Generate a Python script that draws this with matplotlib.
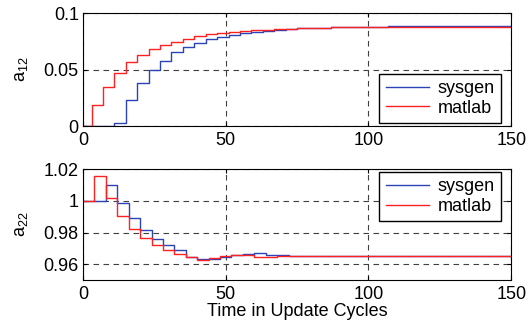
import matplotlib
matplotlib.use("Agg")
import matplotlib.pyplot as plt

plt.rcParams["font.family"] = ["Liberation Sans", "DejaVu Sans"]
plt.rcParams["font.size"] = 13
plt.rcParams["mathtext.fontset"] = "custom"
plt.rcParams["mathtext.rm"] = "Liberation Sans"
plt.rcParams["mathtext.it"] = "Liberation Sans"

# a12 (top panel), steps every 4 cycles
x_top = [0, 3, 7, 11, 15, 19, 23, 27, 31, 35, 39, 43, 47, 51, 55, 59, 63, 67, 71,
         75, 79, 83, 87, 91, 95, 99, 103, 107, 111, 115, 119, 123, 127, 131, 135,
         139, 143, 147, 150]
sysgen_a12 = [0, 0, 0, 0.003, 0.0231, 0.0385, 0.0497, 0.0577, 0.0651, 0.0695,
              0.0737, 0.0766, 0.0787, 0.0805, 0.0822, 0.0834, 0.0843, 0.0852,
              0.0858, 0.0863, 0.0867, 0.0870, 0.0873, 0.0875, 0.0877, 0.0879,
              0.0880, 0.0881, 0.0882, 0.0881, 0.0882, 0.0881, 0.0882, 0.0881,
              0.0882, 0.0881, 0.0882, 0.0881, 0.0881]
matlab_a12 = [0, 0.0186, 0.0349, 0.0473, 0.0565, 0.0627, 0.0680, 0.0719, 0.0746,
              0.0772, 0.0793, 0.0811, 0.0822, 0.0831, 0.0840, 0.0846, 0.0852,
              0.0857, 0.0861, 0.0865, 0.0868, 0.0870, 0.0872, 0.0874, 0.0875,
              0.0876, 0.0876, 0.0876, 0.0876, 0.0876, 0.0876, 0.0876, 0.0876,
              0.0876, 0.0876, 0.0876, 0.0876, 0.0876, 0.0876]

# a22 (bottom panel)
x_bot = [0, 4, 8, 12, 16, 20, 24, 28, 32, 36, 40, 44, 48, 52, 56, 60, 64, 68, 72,
         76, 80, 84, 88, 92, 96, 100, 104, 108, 112, 116, 120, 124, 128, 132, 136,
         140, 144, 148, 150]
sysgen_a22 = [1.0, 1.0, 1.0102, 0.9983, 0.9890, 0.9818, 0.9762, 0.9722, 0.9693,
              0.9648, 0.9635, 0.9631, 0.9648, 0.9658, 0.9662, 0.9672, 0.9660,
              0.9656, 0.9653, 0.9653, 0.9653, 0.9653, 0.9653, 0.9653, 0.9653,
              0.9653, 0.9653, 0.9653, 0.9653, 0.9653, 0.9653, 0.9653, 0.9653,
              0.9653, 0.9653, 0.9653, 0.9653, 0.9653, 0.9653]
matlab_a22 = [1.0, 1.0153, 1.0015, 0.9907, 0.9824, 0.9766, 0.9722, 0.9693, 0.9666,
              0.9646, 0.9625, 0.9641, 0.9652, 0.9656, 0.9657, 0.9648, 0.9647,
              0.9652, 0.9652, 0.9655, 0.9652, 0.9655, 0.9652, 0.9655, 0.9652,
              0.9652, 0.9652, 0.9652, 0.9649, 0.9652, 0.9652, 0.9652, 0.9652,
              0.9652, 0.9652, 0.9652, 0.9652, 0.9652, 0.9652]

blue = "#2a44b8"
red = "#ff2020"

fig = plt.figure(figsize=(5.32, 3.25), dpi=100)
ax1 = fig.add_axes([0.156, 0.612, 0.805, 0.348])
ax2 = fig.add_axes([0.156, 0.138, 0.805, 0.342])

leg_kw = dict(fancybox=False, edgecolor="black", framealpha=1, borderaxespad=0,
              handlelength=2.4, labelspacing=0.15, borderpad=0.35,
              handletextpad=0.5)

ax1.step(x_top, sysgen_a12, where="post", color=blue, lw=1.0, label="sysgen")
ax1.step(x_top, matlab_a12, where="post", color=red, lw=1.0, label="matlab")
ax1.set_ylim(0, 0.1)
ax1.set_yticks([0, 0.05, 0.1])
ax1.set_yticklabels(["0", "0.05", "0.1"])
ax1.set_ylabel("a$_{12}$", labelpad=10)
ax1.legend(loc="lower right", bbox_to_anchor=(0.977, 0.027), **leg_kw)

ax2.step(x_bot, sysgen_a22, where="post", color=blue, lw=1.0, label="sysgen")
ax2.step(x_bot, matlab_a22, where="post", color=red, lw=1.0, label="matlab")
ax2.set_ylim(0.95, 1.02)
ax2.set_yticks([0.96, 0.98, 1.0, 1.02])
ax2.set_yticklabels(["0.96", "0.98", "1", "1.02"])
ax2.set_ylabel("a$_{22}$", labelpad=10)
ax2.set_xlabel("Time in Update Cycles", labelpad=0)
ax2.legend(loc="upper right", bbox_to_anchor=(0.977, 0.973), **leg_kw)

for ax in (ax1, ax2):
    ax.set_xlim(0, 150)
    ax.set_xticks([0, 50, 100, 150])
    ax.tick_params(direction="in", top=True, right=True, length=3)
    ax.tick_params(axis="x", pad=4)
    ax.tick_params(axis="y", pad=3)
    ax.grid(True, color="0.25", linestyle=(0, (5, 4)), linewidth=0.8)
    for s in ax.spines.values():
        s.set_linewidth(0.8)

plt.savefig("out.png", dpi=100)
